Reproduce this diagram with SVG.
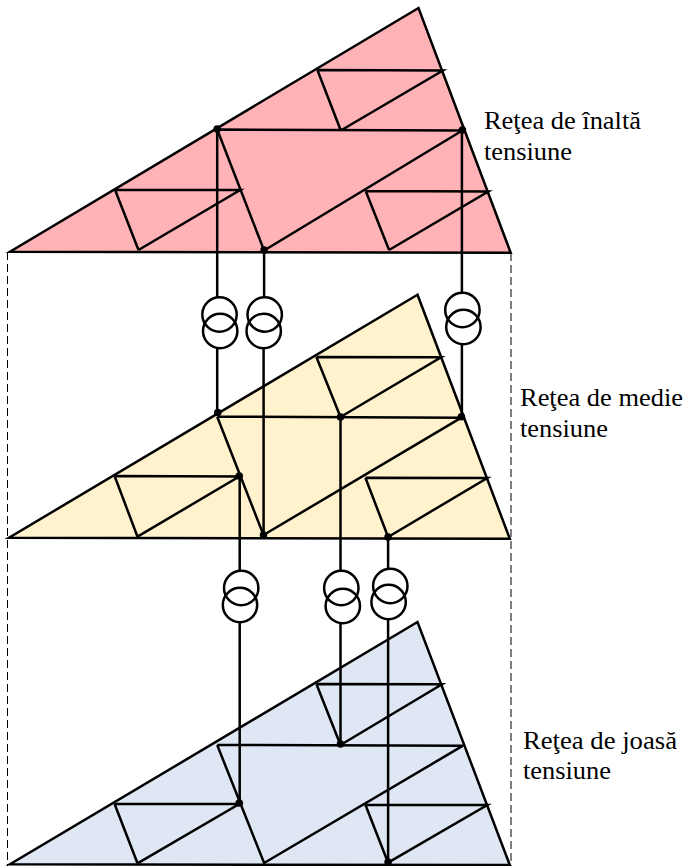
<svg xmlns="http://www.w3.org/2000/svg" width="686" height="866" viewBox="0 0 686 866">
<style>
.tri{stroke:#000;stroke-width:2.5;stroke-linejoin:miter}
.in{fill:none;stroke:#000;stroke-width:2.5}
.high{fill:#ffb3b6}.mid{fill:#fff2cc}.low{fill:#dfe7f5}
.w{fill:none;stroke:#000;stroke-width:2.5}
.d{fill:none;stroke:#000;stroke-width:1;stroke-dasharray:8 4}
.c{fill:none;stroke:#000;stroke-width:2.5}
.dot{fill:#000}
text{font-family:"Liberation Serif","Times New Roman",serif;font-size:26px;fill:#000}
</style>
<rect width="686" height="866" fill="#fff"/>
<g id="net-high">
<polygon class="tri high" points="418.500,8 10,251.700 510.700,252.700"/>
<path class="in" d="M217.200,129.500L462.400,130.500M217.200,129.500L264.100,250.500L462.400,130.500M317.400,70L442.900,70.500L340.800,130.500M317.400,70L340.800,130.500M115.100,190L240.200,190L138.500,250M115.100,190L138.500,250M365.700,191L488.300,191.500L389.100,250M365.700,191L389.100,250"/>
<text x="484" y="129" textLength="157" lengthAdjust="spacingAndGlyphs">Reţea de înaltă</text><text x="484" y="160" textLength="88" lengthAdjust="spacingAndGlyphs">tensiune</text>
</g>
<g id="net-mid">
<polygon class="tri mid" points="417.500,294.700 9,537.700 509.800,538.700"/>
<path class="in" d="M217.200,416.700L461.400,417.700M217.200,416.700L263.500,535L461.400,417.700M316.400,357L441.100,357.300L340.500,417M316.400,357L340.500,417M114.600,476L239.200,476.500L137.500,536.700M114.600,476L137.500,536.700M365.400,477.700L487.300,478L388.100,537M365.400,477.700L388.100,537"/>
<text x="520" y="405.700" textLength="163" lengthAdjust="spacingAndGlyphs">Reţea de medie</text><text x="520" y="436.700" textLength="88" lengthAdjust="spacingAndGlyphs">tensiune</text>
</g>
<g id="net-low">
<polygon class="tri low" points="417.500,622 10,864.300 509.800,865"/>
<path class="in" d="M217.200,745L463,745.700M217.200,745L264.100,863L463,745.700M316.400,684L442,684.300L340.500,745M316.400,684L340.500,745M114.600,804L239.200,804L137.500,863.300M114.600,804L137.500,863.300M365.400,804.700L487.300,805L388.100,862.700M365.400,804.700L388.100,862.700"/>
<text x="523" y="748.700" textLength="154" lengthAdjust="spacingAndGlyphs">Reţea de joasă</text><text x="523" y="779" textLength="88" lengthAdjust="spacingAndGlyphs">tensiune</text>
</g>
<g id="connectors">
<path class="d" d="M7.500,252V866M511,253V866"/>
<path class="w" d="M217.200,129.500V297M217.200,348V412.500M264.100,250.500V297M263.600,348V535M461.900,130V293M461.900,344V416.700M239.700,476V571M239.700,622V804M340.500,417V571M340.500,622V745M388.100,537V568M388.100,619V862"/>
</g>
<g id="tx1"><circle class="c" cx="219.500" cy="314.500" r="17.200"/><circle class="c" cx="220.200" cy="331" r="17.200"/></g>
<g id="tx2"><circle class="c" cx="264.700" cy="314.500" r="17.200"/><circle class="c" cx="263.700" cy="331" r="17.200"/></g>
<g id="tx3"><circle class="c" cx="462.400" cy="310" r="17.200"/><circle class="c" cx="463.400" cy="327" r="17.200"/></g>
<g id="tx4"><circle class="c" cx="241.200" cy="588" r="17.200"/><circle class="c" cx="240" cy="605" r="17.200"/></g>
<g id="tx5"><circle class="c" cx="341.300" cy="588" r="17.200"/><circle class="c" cx="342.800" cy="606" r="17.200"/></g>
<g id="tx6"><circle class="c" cx="390.300" cy="586" r="17.200"/><circle class="c" cx="388.600" cy="602" r="17.200"/></g>
<g id="junctions">
<circle class="dot" cx="217.200" cy="129" r="3.800"/><circle class="dot" cx="462.400" cy="130" r="3.800"/><circle class="dot" cx="264.100" cy="250" r="3.800"/>
<circle class="dot" cx="217.800" cy="412.500" r="3.800"/><circle class="dot" cx="340.500" cy="417" r="3.800"/><circle class="dot" cx="461.400" cy="416.700" r="3.800"/><circle class="dot" cx="239.200" cy="476" r="3.800"/><circle class="dot" cx="263.500" cy="535" r="3.800"/><circle class="dot" cx="388.100" cy="537" r="3.800"/>
<circle class="dot" cx="340.500" cy="744" r="3.800"/><circle class="dot" cx="239.200" cy="803" r="3.800"/><circle class="dot" cx="388.100" cy="862" r="3.800"/>
</g>
</svg>
